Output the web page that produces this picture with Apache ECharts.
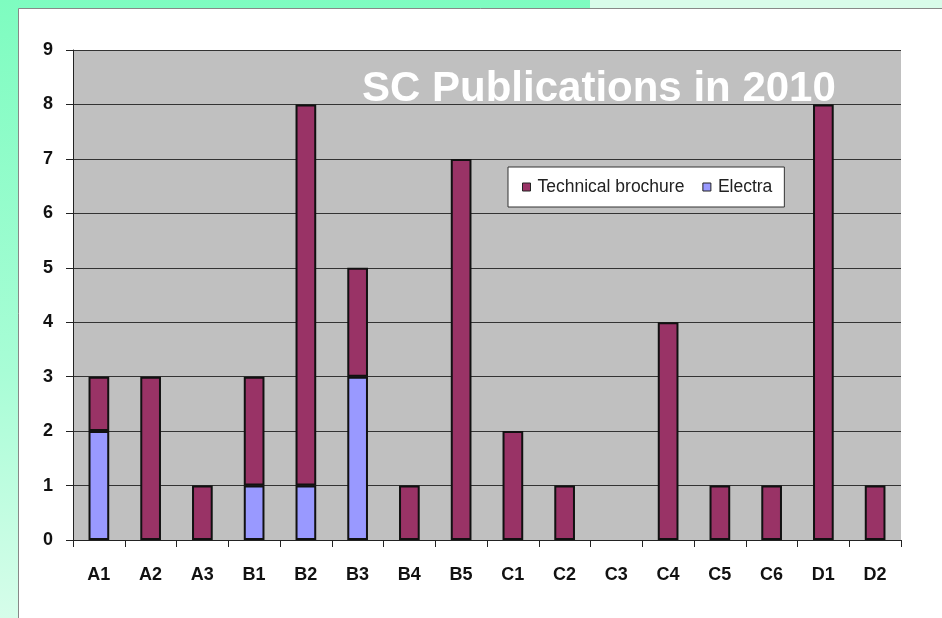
<!DOCTYPE html>
<html><head><meta charset="utf-8">
<script src="https://cdn.jsdelivr.net/npm/echarts@6/dist/echarts.min.js"></script>
<style>
html,body{margin:0;padding:0;width:942px;height:618px;overflow:hidden;
background:linear-gradient(180deg,#7efcc0 0%,#a8fdd6 60%,#d6fdea 100%);}
#topr{position:absolute;left:590px;top:0;width:352px;height:8px;background:#d8fbe9;}
#c{position:absolute;left:0;top:0;width:942px;height:618px;}
</style></head>
<body><div id="topr"></div><div id="c"></div>
<script>
const categories = ['A1','A2','A3','B1','B2','B3','B4','B5','C1','C2','C3','C4','C5','C6','D1','D2'];
const electra = [2,0,0,1,1,3,0,0,0,0,0,0,0,0,0,0];
const technical = [1,3,1,2,7,2,1,7,2,1,0,4,1,1,8,1];
const yTicks = [0,1,2,3,4,5,6,7,8,9];
const titleText = 'SC Publications in 2010';

const chart = echarts.init(document.getElementById('c'), null, {renderer:'canvas'});
const barStyle = c => ({color:c, borderColor:'#111', borderWidth:2});
chart.setOption({
  animation:false,
  backgroundColor:'transparent',
  graphic:[
    {type:'rect', z:-10, shape:{x:18.5,y:8.5,width:940,height:620}, style:{fill:'#ffffff', stroke:'#888', lineWidth:1}},
    {type:'rect', z:-9, shape:{x:73,y:50,width:828,height:490}, style:{fill:'#c0c0c0'}}
  ],
  title:{text:titleText, left:357, top:63, textStyle:{color:'#ffffff', fontFamily:'Liberation Sans, Arial', fontWeight:'bold', fontSize:42}},
  legend:{
    data:[{name:'Technical brochure'},{name:'Electra'}],
    left:508, top:167,
    padding:[10,12,10,14],
    backgroundColor:'#ffffff', borderColor:'#333', borderWidth:1,
    itemWidth:8, itemHeight:8, itemGap:18,
    itemStyle:{borderColor:'#222', borderWidth:1},
    textStyle:{fontFamily:'Liberation Sans, Arial', fontSize:17.5, color:'#222', padding:[0,0,0,2], lineHeight:20},
    icon:'rect'
  },
  grid:{left:73, top:50, right:41, bottom:78},
  xAxis:{
    type:'category', data:categories, boundaryGap:true,
    axisLine:{lineStyle:{color:'#222', width:1}},
    axisTick:{show:true, alignWithLabel:false, length:7, lineStyle:{color:'#222'}},
    axisLabel:{fontFamily:'Liberation Sans, Arial', fontWeight:'bold', fontSize:18, color:'#111', margin:26, interval:0}
  },
  yAxis:{
    type:'value', min:0, max:9, interval:1,
    axisLine:{show:true, lineStyle:{color:'#222', width:1}},
    axisTick:{show:true, inside:false, length:7, lineStyle:{color:'#222'}},
    axisLabel:{fontFamily:'Liberation Sans, Arial', fontWeight:'bold', fontSize:18, color:'#111', margin:20,
      formatter:v=>yTicks.includes(v)?String(v):''},
    splitLine:{show:true, lineStyle:{color:'#333', width:1}}
  },
  series:[
    {name:'Electra', type:'bar', stack:'s', barWidth:'40%', data:electra.map(v=>v===0?null:v), itemStyle:barStyle('#9999ff')},
    {name:'Technical brochure', type:'bar', stack:'s', barWidth:'40%', data:technical.map(v=>v===0?null:v), itemStyle:barStyle('#993366')}
  ]
});
</script></body></html>
